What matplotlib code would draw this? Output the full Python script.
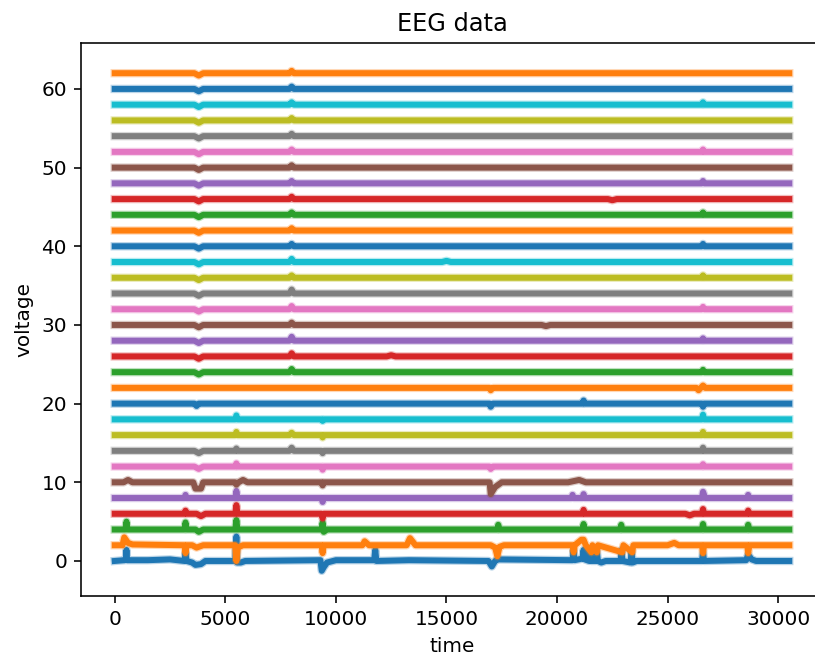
import matplotlib
matplotlib.use("Agg")
import matplotlib.pyplot as plt

# 32 EEG channels stacked with an offset of 2 between them
channel_offsets = [0, 2, 4, 6, 8, 10, 12, 14, 16, 18, 20, 22, 24, 26, 28, 30,
                   32, 34, 36, 38, 40, 42, 44, 46, 48, 50, 52, 54, 56, 58, 60, 62]
time_end = 30500

# (time, deviation from channel offset)
ch0 = [(0, 0), (450, 0.1), (500, 0.2), (530, 1.4), (560, 0.1), (1500, 0.1), (2500, 0.2),
       (3150, 0), (3200, 1.0), (3250, 0), (3500, -0.2), (3650, -0.5), (3900, -0.4), (4100, 0),
       (5450, 0), (5500, 3.1), (5530, -0.2), (5700, -0.2), (5900, 0), (9300, 0.1),
       (9360, -1.25), (9450, -0.8), (9600, -0.2), (10000, 0.1), (11730, 0.1), (11780, 1.4),
       (11830, 0), (13300, 0.1), (16900, 0), (17050, -0.7), (17200, 0), (17300, 0.2),
       (20700, 0.1), (20746, 1.4), (20790, 0.1), (21150, 0.3), (21198, 1.4), (21250, 0.2),
       (21450, 0), (21500, 1.4), (21550, 0), (21750, 0), (21800, 1.2), (21850, 0),
       (22000, -0.2), (22200, 0), (22870, 0), (22918, 1.4), (22960, 0), (23320, -0.2),
       (23370, 1.2), (23420, -0.2), (23600, 0), (26550, 0), (26600, 1.0), (26650, 0),
       (28550, 0.1), (28640, 0.8), (28800, 0.2), (29000, 0), (30500, 0)]
ch1 = [(0, 0), (350, 0), (430, 1.0), (600, 0.3), (800, 0.1), (3150, 0), (3200, -1.0),
       (3250, 0), (3500, 0), (3700, -0.3), (4000, 0), (5450, 0), (5500, -2.0), (5560, -0.3),
       (5800, 0), (9350, 0), (9400, -1.0), (9450, 0), (11200, 0), (11300, 0.5), (11500, 0),
       (13200, 0), (13350, 0.9), (13600, 0), (17000, 0), (17200, -0.3), (17300, -1.4),
       (17400, -0.2), (17600, 0), (20700, 0), (20750, -0.9), (20800, 0), (21100, 0.7),
       (21200, 0.7), (21300, 0), (21550, -0.9), (21600, 0), (21800, -0.9), (21850, 0),
       (22950, -0.9), (23000, 0), (23400, -0.9), (23450, 0), (25000, 0), (25300, 0.3),
       (25500, 0), (26550, 0), (26600, -1.0), (26650, 0), (28600, 0), (28640, -1.0),
       (28700, 0), (30500, 0)]
ch2 = [(0, 0), (480, 0), (530, 1.0), (580, 0), (3150, 0), (3200, 0.9), (3250, 0), (3650, 0),
       (3800, -0.3), (4000, 0), (5450, 0), (5500, 1.2), (5550, 0), (9350, 0), (9400, 0.9),
       (9450, -0.3), (9600, 0), (17300, 0), (17340, 0.6), (17400, 0), (21150, 0), (21200, 0.7),
       (21250, 0), (22850, 0), (22900, 0.6), (22950, 0), (26550, 0), (26600, 0.7), (26650, 0),
       (28600, 0), (28640, 0.6), (28700, 0), (30500, 0)]
ch3 = [(0, 0), (3150, 0), (3200, 0.4), (3250, 0), (3700, 0), (3900, -0.3), (4100, 0),
       (5450, 0), (5500, 1.1), (5550, 0), (9350, 0), (9400, -0.6), (9450, 0), (21150, 0),
       (21200, 0.5), (21250, 0), (25800, 0), (26000, -0.2), (26200, 0), (26550, 0),
       (26600, 0.6), (26650, 0), (28600, 0), (28640, 0.4), (28700, 0), (30500, 0)]
ch4 = [(0, 0), (3150, 0), (3200, 0.4), (3250, 0), (5450, 0), (5500, 0.9), (5550, 0),
       (9350, 0), (9400, -0.5), (9450, 0), (20650, 0), (20700, 0.4), (20750, 0), (21150, 0),
       (21200, 0.5), (21250, 0), (26550, 0), (26600, 0.8), (26700, 0), (28600, 0),
       (28640, 0.4), (28700, 0), (30500, 0)]
ch5 = [(0, 0), (400, 0), (600, 0.3), (800, 0), (3550, 0), (3650, -0.8), (3900, -0.8),
       (4000, 0), (5450, 0), (5500, -0.3), (5600, 0), (5800, 0.3), (6000, 0), (9350, 0),
       (9400, -0.4), (9450, 0), (16950, 0), (17000, -1.5), (17200, -0.6), (17500, 0),
       (20500, 0), (21000, 0.3), (21300, 0), (30500, 0)]
ch6 = [(0, 0), (3600, 0), (3800, -0.3), (4000, 0), (5450, 0), (5500, 0.4), (5550, 0),
       (9350, 0), (9400, -0.4), (9450, 0), (16950, 0), (17000, -0.3), (17100, 0), (26550, 0),
       (26600, 0.3), (26650, 0), (30500, 0)]
ch7 = [(0, 0), (3600, 0), (3800, -0.3), (4000, 0), (5450, 0), (5500, 0.3), (5550, 0),
       (7900, 0), (8000, 0.4), (8100, 0), (9350, 0), (9400, -0.3), (9450, 0), (26550, 0),
       (26600, 0.4), (26650, 0), (30500, 0)]
ch8 = [(0, 0), (5450, 0), (5500, 0.4), (5550, 0), (7900, 0), (8000, 0.3), (8100, 0),
       (9350, 0), (9400, -0.3), (9450, 0), (26550, 0), (26600, 0.4), (26650, 0), (30500, 0)]
ch9 = [(0, 0), (5450, 0), (5500, 0.5), (5550, 0), (9350, 0), (9400, -0.2), (9450, 0),
       (26550, 0), (26600, 0.6), (26650, 0), (30500, 0)]
ch10 = [(0, 0), (3600, 0), (3700, -0.3), (3800, 0), (16950, 0), (17000, -0.4), (17100, 0),
        (21150, 0), (21200, 0.4), (21250, 0), (26550, 0), (26600, -0.4), (26650, 0), (30500, 0)]
ch11 = [(0, 0), (16950, 0), (17000, -0.3), (17100, 0), (26300, 0), (26400, -0.3), (26500, 0),
        (26600, 0.3), (26700, 0), (30500, 0)]
ch12 = [(0, 0), (3600, 0), (3800, -0.3), (4000, 0), (7900, 0), (8000, 0.4), (8100, 0),
        (26550, 0), (26600, 0.3), (26650, 0), (30500, 0)]
ch13 = [(0, 0), (3600, 0), (3800, -0.3), (4000, 0), (7900, 0), (8000, 0.4), (8100, 0),
        (12300, 0), (12500, 0.15), (12700, 0), (30500, 0)]
ch14 = [(0, 0), (3600, 0), (3800, -0.3), (4000, 0), (7900, 0), (8000, 0.5), (8100, 0),
        (26550, 0), (26600, 0.3), (26650, 0), (30500, 0)]
ch15 = [(0, 0), (3600, 0), (3800, -0.3), (4000, 0), (7900, 0), (8000, 0.3), (8100, 0),
        (19300, 0), (19500, -0.15), (19700, 0), (30500, 0)]
ch16 = [(0, 0), (3600, 0), (3800, -0.3), (4000, 0), (7900, 0), (8000, 0.4), (8100, 0),
        (26550, 0), (26600, 0.3), (26650, 0), (30500, 0)]
ch17 = [(0, 0), (3600, 0), (3800, -0.3), (4000, 0), (7900, 0), (8000, 0.5), (8100, 0),
        (30500, 0)]
ch18 = [(0, 0), (3600, 0), (3800, -0.3), (4000, 0), (7900, 0), (8000, 0.3), (8100, 0),
        (26550, 0), (26600, 0.3), (26650, 0), (30500, 0)]
ch19 = [(0, 0), (3600, 0), (3800, -0.3), (4000, 0), (7900, 0), (8000, 0.4), (8100, 0),
        (14800, 0), (15000, 0.15), (15200, 0), (30500, 0)]
ch20 = [(0, 0), (3600, 0), (3800, -0.3), (4000, 0), (7900, 0), (8000, 0.3), (8100, 0),
        (26550, 0), (26600, 0.3), (26650, 0), (30500, 0)]
ch21 = [(0, 0), (3600, 0), (3800, -0.3), (4000, 0), (7900, 0), (8000, 0.3), (8100, 0),
        (30500, 0)]
ch22 = [(0, 0), (3600, 0), (3800, -0.3), (4000, 0), (7900, 0), (8000, 0.3), (8100, 0),
        (26550, 0), (26600, 0.3), (26650, 0), (30500, 0)]
ch23 = [(0, 0), (3600, 0), (3800, -0.3), (4000, 0), (7900, 0), (8000, 0.3), (8100, 0),
        (22300, 0), (22500, -0.15), (22700, 0), (30500, 0)]
ch24 = [(0, 0), (3600, 0), (3800, -0.3), (4000, 0), (7900, 0), (8000, 0.3), (8100, 0),
        (26550, 0), (26600, 0.3), (26650, 0), (30500, 0)]
ch25 = [(0, 0), (3600, 0), (3800, -0.3), (4000, 0), (7900, 0), (8000, 0.3), (8100, 0),
        (30500, 0)]
ch26 = [(0, 0), (3600, 0), (3800, -0.3), (4000, 0), (7900, 0), (8000, 0.3), (8100, 0),
        (26550, 0), (26600, 0.3), (26650, 0), (30500, 0)]
ch27 = [(0, 0), (3600, 0), (3800, -0.3), (4000, 0), (7900, 0), (8000, 0.3), (8100, 0),
        (30500, 0)]
ch28 = [(0, 0), (3600, 0), (3800, -0.3), (4000, 0), (7900, 0), (8000, 0.3), (8100, 0),
        (30500, 0)]
ch29 = [(0, 0), (3600, 0), (3800, -0.3), (4000, 0), (7900, 0), (8000, 0.3), (8100, 0),
        (26550, 0), (26600, 0.3), (26650, 0), (30500, 0)]
ch30 = [(0, 0), (3600, 0), (3800, -0.3), (4000, 0), (7900, 0), (8000, 0.3), (8100, 0),
        (30500, 0)]
ch31 = [(0, 0), (3600, 0), (3800, -0.3), (4000, 0), (7900, 0), (8000, 0.3), (8100, 0),
        (30500, 0)]

channels = [ch0, ch1, ch2, ch3, ch4, ch5, ch6, ch7, ch8, ch9, ch10, ch11, ch12, ch13, ch14,
            ch15, ch16, ch17, ch18, ch19, ch20, ch21, ch22, ch23, ch24, ch25, ch26, ch27,
            ch28, ch29, ch30, ch31]

fig = plt.figure(figsize=(815 / 144, 660 / 144), dpi=144)
ax = fig.add_axes([0.0994, 0.097, 0.9104, 0.8374])

for i, (offset, pts) in enumerate(zip(channel_offsets, channels)):
    t = [p[0] for p in pts]
    v = [offset + p[1] for p in pts]
    color = f"C{i % 10}"
    # soft halo to mimic the noisy edge of the dense trace
    ax.plot(t, v, color=color, lw=4.2, alpha=0.3, solid_joinstyle='round')
    ax.plot(t, v, color=color, lw=3.0, solid_joinstyle='round')

ax.set_xlim(-0.05 * time_end, 1.05 * time_end)
ax.set_ylim(-4.45, 65.8)
ax.set_title('EEG data')
ax.set_xlabel('time')
ax.set_ylabel('voltage')

fig.savefig('out.png', dpi=144)
